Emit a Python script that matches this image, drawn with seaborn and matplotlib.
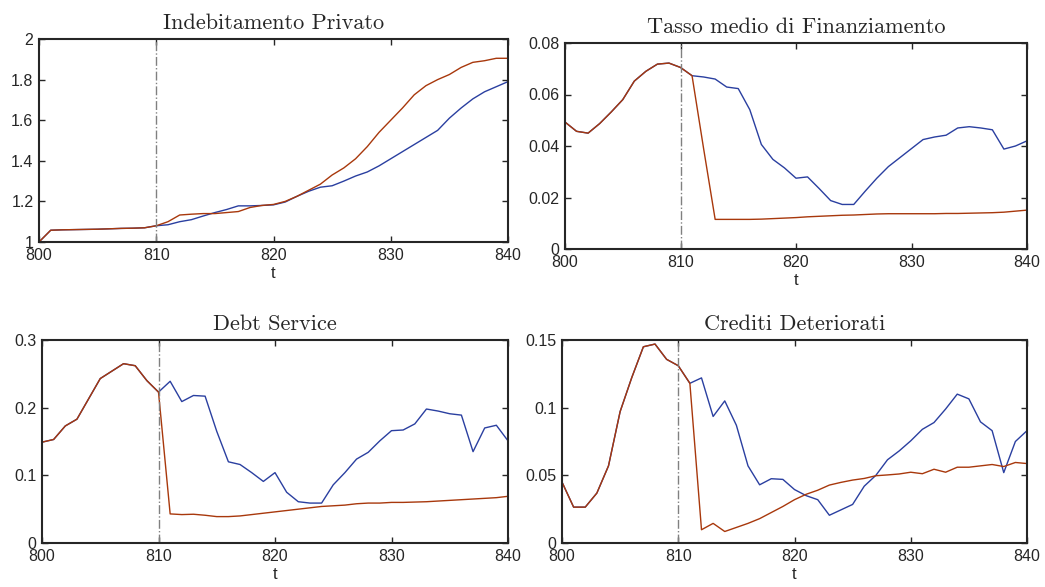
import numpy as np
import pandas as pd
import seaborn as sns
import matplotlib.pyplot as plt

t = list(range(800, 841))

# Indebitamento Privato
indeb_blue = [1.0, 1.058, 1.06, 1.061, 1.062, 1.063, 1.065, 1.067, 1.068, 1.07, 1.08,
              1.085, 1.10, 1.11, 1.128, 1.145, 1.16, 1.178, 1.178, 1.18, 1.183,
              1.197, 1.225, 1.25, 1.27, 1.277, 1.30, 1.325, 1.345, 1.375, 1.41,
              1.445, 1.48, 1.515, 1.55, 1.61, 1.66, 1.705, 1.74, 1.765, 1.79]
indeb_red = [1.0, 1.058, 1.06, 1.061, 1.062, 1.063, 1.065, 1.067, 1.068, 1.07, 1.08,
             1.10, 1.133, 1.137, 1.14, 1.14, 1.145, 1.15, 1.17, 1.18, 1.185,
             1.20, 1.225, 1.255, 1.285, 1.33, 1.365, 1.41, 1.47, 1.54, 1.60,
             1.66, 1.725, 1.77, 1.80, 1.825, 1.86, 1.885, 1.893, 1.905, 1.905]

# Tasso medio di Finanziamento
tasso_blue = [0.0493, 0.0457, 0.045, 0.0487, 0.0532, 0.058, 0.0652, 0.069, 0.0718, 0.0722, 0.0705,
              0.0673, 0.0668, 0.066, 0.0629, 0.0623, 0.0541, 0.0406, 0.0348, 0.0315, 0.0275,
              0.028, 0.0235, 0.0188, 0.0173, 0.0173, 0.0225, 0.0275, 0.032, 0.0355, 0.039,
              0.0425, 0.0435, 0.0442, 0.047, 0.0475, 0.047, 0.0463, 0.0388, 0.04, 0.042]
tasso_red = [0.0493, 0.0457, 0.045, 0.0487, 0.0532, 0.058, 0.0652, 0.069, 0.0718, 0.0722, 0.0705,
             0.0673, 0.039, 0.0115, 0.0115, 0.0115, 0.0115, 0.0116, 0.0118, 0.012, 0.0122,
             0.0125, 0.0127, 0.0129, 0.0131, 0.0132, 0.0134, 0.0136, 0.0137, 0.0137, 0.0137,
             0.0137, 0.0137, 0.0138, 0.0138, 0.0139, 0.014, 0.0141, 0.0143, 0.0147, 0.0151]

# Debt Service
debt_blue = [0.149, 0.153, 0.173, 0.183, 0.213, 0.243, 0.254, 0.265, 0.262, 0.24, 0.223,
             0.239, 0.209, 0.218, 0.217, 0.165, 0.12, 0.116, 0.104, 0.091, 0.104,
             0.075, 0.061, 0.059, 0.059, 0.086, 0.104, 0.124, 0.134, 0.151, 0.166,
             0.167, 0.176, 0.198, 0.195, 0.191, 0.189, 0.135, 0.17, 0.174, 0.151]
debt_red = [0.149, 0.153, 0.173, 0.183, 0.213, 0.243, 0.254, 0.265, 0.262, 0.24, 0.223,
            0.043, 0.042, 0.0425, 0.041, 0.039, 0.039, 0.040, 0.042, 0.044, 0.046,
            0.048, 0.05, 0.052, 0.054, 0.055, 0.056, 0.058, 0.059, 0.059, 0.06,
            0.06, 0.0605, 0.061, 0.062, 0.063, 0.064, 0.065, 0.066, 0.067, 0.069]

# Crediti Deteriorati
cred_blue = [0.045, 0.0265, 0.0265, 0.0369, 0.057, 0.0971, 0.1222, 0.145, 0.147, 0.1357, 0.131,
             0.118, 0.122, 0.0935, 0.105, 0.087, 0.057, 0.043, 0.0475, 0.047, 0.0395,
             0.035, 0.032, 0.0205, 0.0245, 0.0285, 0.042, 0.05, 0.0615, 0.068, 0.0755,
             0.084, 0.089, 0.099, 0.11, 0.1065, 0.0895, 0.083, 0.052, 0.075, 0.083]
cred_red = [0.045, 0.0265, 0.0265, 0.0369, 0.057, 0.0971, 0.1222, 0.145, 0.147, 0.1357, 0.131,
            0.118, 0.0098, 0.0145, 0.0085, 0.0115, 0.0145, 0.018, 0.0225, 0.027, 0.032,
            0.036, 0.039, 0.0428, 0.0448, 0.0465, 0.0477, 0.0497, 0.0503, 0.051, 0.0523,
            0.0512, 0.0545, 0.0523, 0.056, 0.056, 0.057, 0.058, 0.0565, 0.0595, 0.0587]

titles = ['Indebitamento Privato', 'Tasso medio di Finanziamento',
          'Debt Service', 'Crediti Deteriorati']
ylims = [(1, 2), (0, 0.08), (0, 0.3), (0, 0.15)]
yticks = [[1, 1.2, 1.4, 1.6, 1.8, 2], [0, 0.02, 0.04, 0.06, 0.08],
          [0, 0.1, 0.2, 0.3], [0, 0.05, 0.1, 0.15]]
ytl = [['1', '1.2', '1.4', '1.6', '1.8', '2'], ['0', '0.02', '0.04', '0.06', '0.08'],
       ['0', '0.1', '0.2', '0.3'], ['0', '0.05', '0.1', '0.15']]
series = [(indeb_blue, indeb_red), (tasso_blue, tasso_red),
          (debt_blue, debt_red), (cred_blue, cred_red)]

sns.set_style('ticks')
plt.rcParams['font.family'] = ['Liberation Sans', 'DejaVu Sans']

fig = plt.figure(figsize=(10.45, 5.87), dpi=100)
W, H = 1045, 587
boxes = [(39, 39, 508, 242), (565, 43, 1027, 249),
         (42, 340, 508, 543), (562, 340, 1027, 543)]

for i in range(4):
    l, tp, r, b = boxes[i]
    ax = fig.add_axes([l / W, 1 - b / H, (r - l) / W, (b - tp) / H])
    blue, red = series[i]
    sns.lineplot(x=t, y=blue, ax=ax, color='#2a3fa0', linewidth=1.0)
    sns.lineplot(x=t, y=red, ax=ax, color='#a8380c', linewidth=1.0)
    ax.axvline(810, color='#808080', linestyle='-.', linewidth=1.0)
    ax.set_xlim(800, 840)
    ax.set_ylim(*ylims[i])
    ax.set_xticks([800, 810, 820, 830, 840])
    ax.set_yticks(yticks[i])
    ax.set_yticklabels(ytl[i])
    ax.tick_params(direction='in', top=True, right=True, length=4, width=1,
                   labelsize=11.5, colors='#262626')
    ax.tick_params(axis='x', pad=4.5)
    ax.tick_params(axis='y', pad=4)
    for s in ax.spines.values():
        s.set_linewidth(1.5)
        s.set_color('#262626')
    ax.set_xlabel('t', fontsize=12, labelpad=2, color='#262626')
    ax.set_title(titles[i], fontfamily='cmr10', fontsize=16, pad=7)

fig.savefig('out.png', dpi=100)
